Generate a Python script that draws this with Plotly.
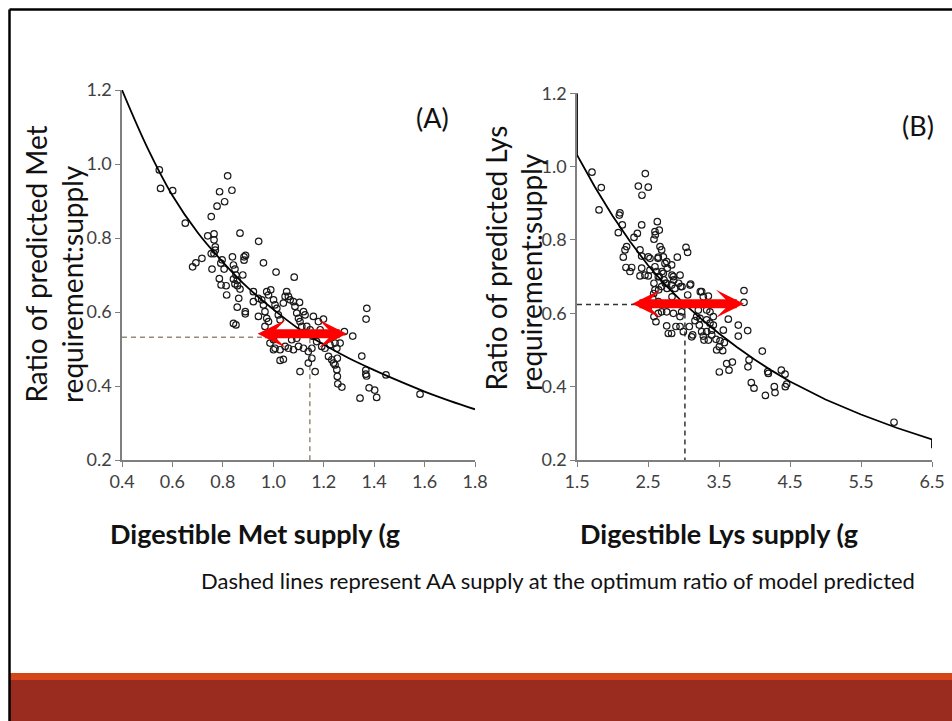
import plotly.graph_objects as go

W, H = 952, 721

# ---------------- data ----------------
met_x = [0.548,0.553,0.601,0.651,0.819,0.787,0.836,0.807,0.777,0.754,0.740,0.765,0.765,0.770,0.770,0.765,0.754,
         0.868,0.942,0.680,0.693,0.717,0.757,0.797,0.792,0.805,0.786,0.793,0.813,0.815,0.838,0.842,0.848,0.852,
         0.842,0.857,0.848,0.858,0.879,0.884,0.890,0.884,0.868,0.863,0.857,0.889,0.889,0.842,0.852,
         0.961,1.011,1.083,1.371,1.368,1.315,1.282,1.351,1.367,1.370,1.367,1.447,1.380,1.402,1.344,1.410,1.582,1.802,
         0.921,0.921,0.941,0.954,0.961,0.967,0.974,0.981,0.974,0.990,0.981,1.001,1.007,1.014,1.020,1.027,1.040,1.047,
         1.053,1.060,1.067,1.080,1.086,1.104,1.093,1.100,1.106,1.120,1.126,1.113,1.133,1.159,1.179,1.199,1.146,1.159,
         1.172,1.192,1.205,1.225,1.245,1.265,1.252,1.219,1.232,1.239,1.245,1.254,1.252,1.254,1.256,1.272,1.139,1.153,
         1.166,1.106,1.027,1.040,1.001,1.007,1.027,1.047,1.060,1.080,1.100,1.120,1.139,1.153,0.987,1.001,1.073,1.093,
         0.941,0.967,1.172,1.186]
met_y = [0.984,0.934,0.928,0.840,0.968,0.925,0.929,0.898,0.886,0.858,0.806,0.811,0.795,0.776,0.767,0.758,0.758,
         0.813,0.791,0.722,0.733,0.745,0.716,0.741,0.732,0.716,0.690,0.673,0.671,0.646,0.749,0.727,0.716,0.700,
         0.689,0.685,0.676,0.671,0.700,0.749,0.753,0.740,0.662,0.637,0.613,0.601,0.595,0.569,0.565,
         0.733,0.708,0.694,0.610,0.581,0.535,0.547,0.481,0.443,0.427,0.432,0.430,0.395,0.389,0.367,0.369,0.378,0.335,
         0.655,0.628,0.637,0.633,0.619,0.601,0.583,0.574,0.655,0.660,0.646,0.633,0.619,0.610,0.592,0.579,0.624,0.642,
         0.655,0.642,0.633,0.628,0.615,0.626,0.597,0.583,0.574,0.601,0.592,0.561,0.561,0.588,0.574,0.581,0.552,0.534,
         0.520,0.507,0.502,0.511,0.516,0.516,0.502,0.480,0.471,0.462,0.457,0.475,0.444,0.426,0.406,0.397,0.462,0.475,
         0.439,0.439,0.469,0.472,0.498,0.502,0.498,0.507,0.502,0.498,0.507,0.502,0.493,0.502,0.516,0.525,0.525,0.529,
         0.588,0.561,0.538,0.552]

lys_x = [1.711,1.842,1.810,2.462,2.364,2.504,2.415,2.105,2.096,2.138,2.082,2.411,2.350,2.303,2.631,2.659,2.603,
         2.584,2.669,2.598,2.199,2.176,2.152,2.190,2.270,2.246,2.387,2.411,2.504,2.528,2.645,2.411,2.457,2.387,
         2.504,2.528,2.598,2.622,2.645,2.584,2.598,2.566,2.645,2.584,2.645,2.612,2.504,2.913,3.035,3.058,2.692,
         2.716,2.739,2.772,2.833,2.763,
         3.852,3.852,3.631,3.772,3.904,3.772,3.561,4.110,3.923,3.908,4.195,4.186,4.378,4.430,4.453,4.434,3.955,
         3.993,4.279,4.289,4.153,5.965,3.505,3.608,3.641,3.688,3.467,3.505,3.552,3.575,3.514,3.458,3.397,3.350,
         3.289,3.279,3.326,3.397,3.420,3.373,3.326,3.232,3.185,3.162,3.223,3.256,3.129,3.115,3.082,2.998,2.951,
         2.894,2.833,2.786,2.763,2.857,2.951,2.974,2.763,2.692,3.092,3.101,3.059,2.960,2.951,2.857,2.833,2.880,
         2.716,2.725,2.763,2.692,3.256,3.350,3.279,3.209,3.326,3.420,3.373,
         2.641,2.697,2.660,2.744,2.768,2.838,2.862,2.932,2.979,2.650,2.580,3.237,2.838]
lys_y = [0.985,0.943,0.882,0.981,0.947,0.944,0.922,0.874,0.868,0.841,0.820,0.841,0.818,0.807,0.850,0.827,0.814,
         0.802,0.782,0.823,0.782,0.773,0.753,0.725,0.725,0.714,0.773,0.756,0.754,0.750,0.753,0.723,0.704,0.702,
         0.702,0.718,0.727,0.714,0.700,0.682,0.664,0.641,0.632,0.591,0.600,0.577,0.618,0.753,0.780,0.766,0.773,
         0.754,0.736,0.723,0.732,0.741,
         0.662,0.630,0.584,0.568,0.553,0.538,0.554,0.497,0.473,0.454,0.436,0.441,0.445,0.434,0.407,0.400,0.411,
         0.396,0.400,0.384,0.376,0.303,0.440,0.463,0.445,0.467,0.500,0.509,0.498,0.520,0.525,0.529,0.541,0.527,
         0.527,0.538,0.550,0.554,0.568,0.573,0.582,0.586,0.591,0.580,0.568,0.550,0.541,0.536,0.564,0.550,0.564,
         0.564,0.545,0.545,0.566,0.600,0.591,0.604,0.604,0.604,0.677,0.680,0.650,0.673,0.704,0.700,0.677,0.668,
         0.709,0.691,0.682,0.673,0.659,0.647,0.645,0.609,0.609,0.591,0.604,
         0.750,0.714,0.700,0.682,0.668,0.704,0.691,0.682,0.673,0.664,0.654,0.659,0.645]

# fitted curves
curve_met_x = [0.4,0.5,0.6,0.7,0.8,0.9,1.0,1.1,1.2,1.3,1.4,1.5,1.6,1.7,1.8]
curve_met_y = [1.200,1.045,0.915,0.815,0.735,0.665,0.607,0.555,0.512,0.475,0.443,0.413,0.385,0.360,0.337]
curve_lys_x = [1.5,1.5,1.75,2.0,2.25,2.5,2.75,3.0,3.25,3.5,3.75,4.0,4.25,4.5,5.0,5.5,6.0,6.5,6.5]
curve_lys_y = [1.2,1.032,0.945,0.866,0.795,0.731,0.676,0.628,0.585,0.545,0.508,0.474,0.443,0.414,0.365,0.324,0.288,0.256,0.232]

# optimum (dashed lines)
opt_met_x, opt_met_y = 1.145, 0.532
opt_lys_x, opt_lys_y = 3.02, 0.624

# red double arrows (range of supply)
arrow_met_x, arrow_met_y = [0.932, 1.292], 0.541
arrow_lys_x, arrow_lys_y = [2.257, 3.852], 0.626

met_xticks = [0.4,0.6,0.8,1.0,1.2,1.4,1.6,1.8]
lys_xticks = [1.5,2.5,3.5,4.5,5.5,6.5]
yticks = [0.2,0.4,0.6,0.8,1.0,1.2]

FONT = "Lato"

def px(x):
    return x / W

def py(y):
    return 1 - y / H

fig = go.Figure()

# dashed lines
fig.add_trace(go.Scatter(x=[0.4, opt_met_x, opt_met_x], y=[opt_met_y, opt_met_y, 0.2], mode="lines",
                         line=dict(color="#968a7a", width=1.5, dash="5px,4px"), xaxis="x", yaxis="y",
                         hoverinfo="skip"))
fig.add_trace(go.Scatter(x=[1.5, opt_lys_x, opt_lys_x], y=[opt_lys_y, opt_lys_y, 0.2], mode="lines",
                         line=dict(color="#333333", width=1.5, dash="5px,4px"), xaxis="x2", yaxis="y2",
                         hoverinfo="skip"))

mk = dict(symbol="circle-open", size=6.5, color="#1a1a1a", line=dict(width=1.2, color="#1a1a1a"))
fig.add_trace(go.Scatter(x=met_x, y=met_y, mode="markers", marker=mk, xaxis="x", yaxis="y", cliponaxis=False))
fig.add_trace(go.Scatter(x=lys_x, y=lys_y, mode="markers", marker=mk, xaxis="x2", yaxis="y2", cliponaxis=False))

fig.add_trace(go.Scatter(x=curve_met_x, y=curve_met_y, mode="lines", line=dict(color="black", width=1.8, shape="spline"),
                         xaxis="x", yaxis="y", cliponaxis=False))
fig.add_trace(go.Scatter(x=curve_lys_x, y=curve_lys_y, mode="lines", line=dict(color="black", width=1.8),
                         xaxis="x2", yaxis="y2", cliponaxis=False))

axis_common = dict(showline=True, linecolor="#7f7f7f", linewidth=1.5, ticks="outside", ticklen=5,
                   tickcolor="#7f7f7f", tickwidth=1.2, showgrid=False, zeroline=False, automargin=False,
                   tickfont=dict(family=FONT, size=18, color="#404040"))

fig.update_layout(
    template="none",
    width=W, height=H, margin=dict(l=0, r=0, t=0, b=0, pad=0, autoexpand=False),
    paper_bgcolor="white", plot_bgcolor="white", showlegend=False,
    xaxis=dict(domain=[px(122), px(475)], anchor="y", range=[0.4, 1.8], tickvals=met_xticks,
               ticktext=[f"{v:.1f}" for v in met_xticks], **axis_common),
    yaxis=dict(domain=[py(460), py(90)], anchor="x", range=[0.2, 1.2], tickvals=yticks,
               ticktext=[f"{v:.1f}" for v in yticks], **axis_common),
    xaxis2=dict(domain=[px(577), px(932)], anchor="y2", range=[1.5, 6.5], tickvals=lys_xticks,
                ticktext=[f"{v:.1f}" for v in lys_xticks], **axis_common),
    yaxis2=dict(domain=[py(460), py(93.3)], anchor="x2", range=[0.2, 1.2], tickvals=yticks,
                ticktext=[f"{v:.1f}" for v in yticks], **axis_common),
)

ann = []
def text(t, x, y, size, xanchor="center", yanchor="middle", angle=0, color="#111111"):
    ann.append(dict(text=t, x=px(x), y=py(y), xref="paper", yref="paper", showarrow=False,
                    xanchor=xanchor, yanchor=yanchor, textangle=angle,
                    font=dict(family=FONT, size=size, color=color)))

text("(A)", 432, 117, 27)
text("(B)", 918, 125, 27)
text("Ratio of predicted Met", 35, 405, 28, yanchor="bottom", angle=-90)
text("requirement:supply", 72, 405, 28, yanchor="bottom", angle=-90)
text("Ratio of predicted Lys", 495, 393, 28, yanchor="bottom", angle=-90)
text("requirement:supply", 531, 393, 28, yanchor="bottom", angle=-90)
text("<b>Digestible Met supply (g</b>", 255, 533, 27)
text("<b>Digestible Lys supply (g</b>", 719, 533, 27)
text("Dashed lines represent AA supply at the optimum ratio of model predicted", 558, 580, 22)

for (xs, yv, xr, yr) in [(arrow_met_x, arrow_met_y, "x", "y"), (arrow_lys_x, arrow_lys_y, "x2", "y2")]:
    ann.append(dict(x=xs[1], y=yv, ax=xs[0], ay=yv, xref=xr, yref=yr, axref=xr, ayref=yr, text="",
                    showarrow=True, arrowside="end+start", arrowhead=3, startarrowhead=3,
                    arrowsize=0.52, startarrowsize=0.52, arrowwidth=9, arrowcolor="#ff0000",
                    standoff=0, startstandoff=0))

fig.update_layout(annotations=ann)

shapes = [
    dict(type="rect", xref="paper", yref="paper", x0=px(10), x1=1, y0=py(680), y1=py(673),
         fillcolor="#d2461a", line=dict(width=0), layer="below"),
    dict(type="rect", xref="paper", yref="paper", x0=px(10), x1=1, y0=0, y1=py(680),
         fillcolor="#992b1f", line=dict(width=0), layer="below"),
    dict(type="line", xref="paper", yref="paper", x0=px(9.5), x1=1, y0=py(9.5), y1=py(9.5),
         line=dict(color="black", width=2.5)),
    dict(type="line", xref="paper", yref="paper", x0=px(9.5), x1=px(9.5), y0=py(9.5), y1=0,
         line=dict(color="black", width=2.5)),
]
fig.update_layout(shapes=shapes)

fig.write_html("out.html")
